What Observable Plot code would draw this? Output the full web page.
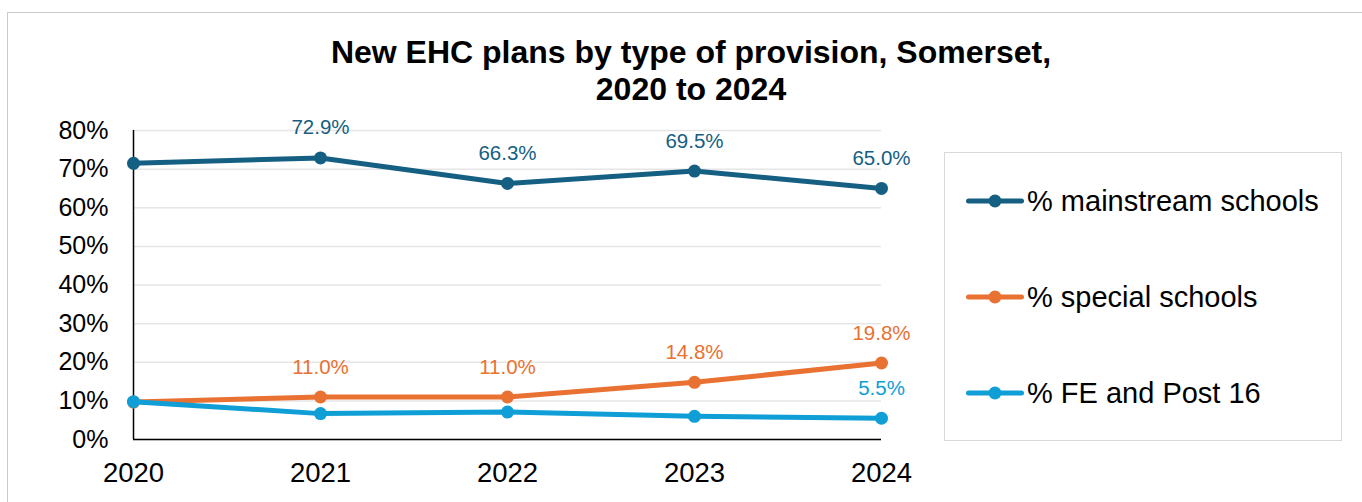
<!DOCTYPE html>
<html>
<head>
<meta charset="utf-8">
<script src="https://cdn.jsdelivr.net/npm/d3@7"></script>
<script src="https://cdn.jsdelivr.net/npm/@observablehq/plot@0.6"></script>
<style>
  html, body { margin: 0; padding: 0; width: 1362px; height: 502px; overflow: hidden; background: #fff; }
  body { position: relative; font-family: "Liberation Sans", Arial, sans-serif; }
  #frame { position: absolute; left: 7px; top: 12px; width: 2000px; height: 1000px; border: 1.5px solid #cacaca; box-sizing: border-box; }
  #chart { position: absolute; left: 0; top: 0; }
  #title { position: absolute; left: 291px; top: 34px; width: 800px; text-align: center; font-weight: bold; font-size: 32px; line-height: 36.5px; color: #000; }
  #legend { position: absolute; left: 944px; top: 152px; width: 398px; height: 289px; border: 1.5px solid #d9d9d9; box-sizing: border-box; }
  .row { position: absolute; left: 21px; height: 40px; display: flex; align-items: center; white-space: nowrap; }
  .row span { font-size: 29px; color: #000; margin-left: 3px; }
</style>
</head>
<body>
<div id="frame"></div>
<div id="chart"></div>
<div id="title">New EHC plans by type of provision, Somerset,<br>2020 to 2024</div>
<div id="legend"></div>
<script>
const years = [2020, 2021, 2022, 2023, 2024];
const seriesNames = ["% mainstream schools", "% special schools", "% FE and Post 16"];
const seriesColors = ["#156082", "#E97132", "#0F9ED5"];
const mainstream = [71.5, 72.9, 66.3, 69.5, 65.0];
const special = [9.7, 11.0, 11.0, 14.8, 19.8];
const fePost16 = [9.8, 6.7, 7.1, 6.0, 5.5];
const mainstreamLabels = [false, true, true, true, true];
const specialLabels = [false, true, true, true, true];
const fePost16Labels = [false, false, false, false, true];
const yTicks = [0, 10, 20, 30, 40, 50, 60, 70, 80];

const seriesValues = [mainstream, special, fePost16];
const seriesLabels = [mainstreamLabels, specialLabels, fePost16Labels];

const data = seriesNames.flatMap((name, s) =>
  years.map((year, i) => ({ series: name, year, value: seriesValues[s][i], show: seriesLabels[s][i] }))
);

const chart = Plot.plot({
  width: 1362,
  height: 502,
  marginLeft: 133,
  marginRight: 481,
  marginTop: 130,
  marginBottom: 63,
  style: { fontFamily: "'Liberation Sans', Arial, sans-serif", color: "#000", background: "transparent" },
  x: { type: "point", domain: years, padding: 0 },
  y: { domain: [0, 80] },
  color: { domain: seriesNames, range: seriesColors },
  marks: [
    Plot.gridY(yTicks, { stroke: "#e6e6e6", strokeOpacity: 1, strokeWidth: 1.5 }),
    Plot.axisY(yTicks, { tickSize: 0, tickPadding: 25, fontSize: 25, tickFormat: d => d + "%", label: null }),
    Plot.axisX(years, { tickSize: 0, tickPadding: 23, fontSize: 27.5, tickFormat: d => String(d), label: null }),
    Plot.ruleY([yTicks[0]], { stroke: "#000", strokeWidth: 1.5 }),
    Plot.ruleX([years[0]], { stroke: "#000", strokeWidth: 1.5 }),
    Plot.line(data, { x: "year", y: "value", z: "series", stroke: "series", strokeWidth: 5, strokeLinejoin: "round", strokeLinecap: "round" }),
    Plot.dot(data, { x: "year", y: "value", fill: "series", r: 6.5, stroke: null }),
    Plot.text(data.filter(d => d.show), { x: "year", y: "value", text: d => d.value.toFixed(1) + "%", fill: "series", dy: -30, fontSize: 20.5 })
  ]
});
document.getElementById("chart").appendChild(chart);

// Legend
const legend = document.getElementById("legend");
const rowTops = [28, 124, 220];
seriesNames.forEach((name, i) => {
  const row = document.createElement("div");
  row.className = "row";
  row.style.top = rowTops[i] + "px";
  row.innerHTML = `<svg width="58" height="16"><line x1="2.5" y1="8" x2="55.5" y2="8" stroke="${seriesColors[i]}" stroke-width="5" stroke-linecap="round"/><circle cx="29" cy="8" r="6.5" fill="${seriesColors[i]}"/></svg><span>${name}</span>`;
  legend.appendChild(row);
});
</script>
</body>
</html>
